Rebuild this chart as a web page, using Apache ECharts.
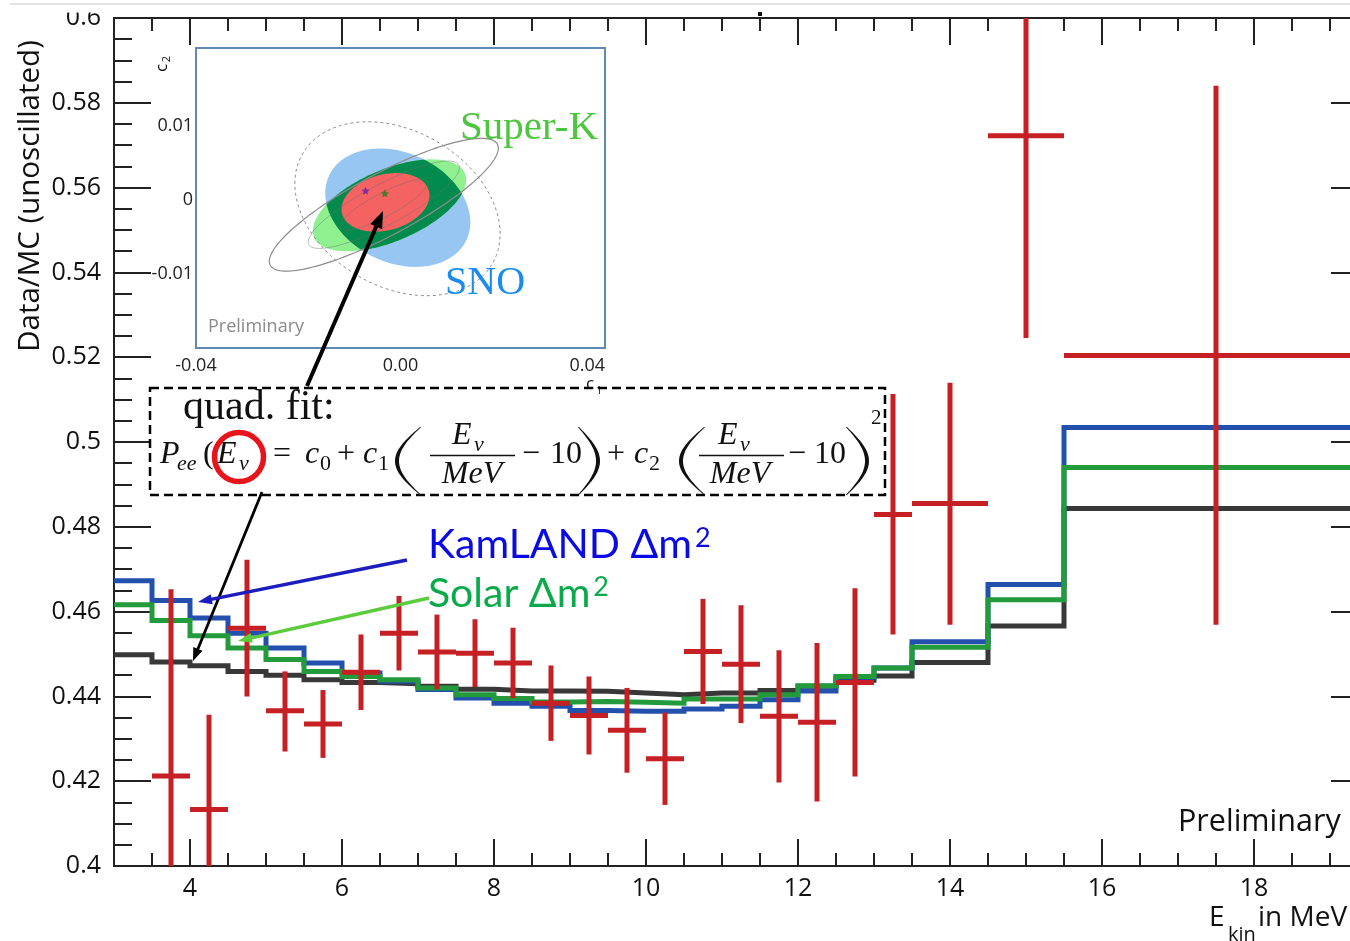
<!DOCTYPE html>
<html>
<head>
<meta charset="utf-8">
<script src="https://cdn.jsdelivr.net/npm/echarts@6/dist/echarts.min.js"></script>
<style>
  html, body { margin: 0; padding: 0; background: #fff; }
  #chart { width: 1350px; height: 941px; }
</style>
</head>
<body>
<div id="chart"></div>
<script>
// ---- Energy binning (kinetic energy, MeV) ----
const binEdges = [3, 3.5, 4, 4.5, 5, 5.5, 6, 6.5, 7, 7.5, 8, 8.5, 9, 9.5, 10, 10.5, 11, 11.5, 12, 12.5, 13, 13.5, 14.5, 15.5, 19.5];

// ---- Predicted Data/MC per bin ----
const peeKamLAND = [0.4673, 0.4626, 0.4585, 0.4549, 0.4514, 0.4479, 0.4455, 0.4436, 0.4416, 0.4396, 0.4384, 0.4377,
                    0.4367, 0.4365, 0.4365, 0.4370, 0.4377, 0.4392, 0.4413, 0.4445, 0.4467, 0.4529, 0.4664, 0.5034];
const peeSolar    = [0.4616, 0.4579, 0.4543, 0.4514, 0.4487, 0.4459, 0.4447, 0.4439, 0.4420, 0.4404, 0.4395, 0.4387,
                    0.4388, 0.4386, 0.4384, 0.4394, 0.4394, 0.4404, 0.4425, 0.4447, 0.4467, 0.4516, 0.4628, 0.4940];
const peeQuadFit  = [0.4498, 0.4481, 0.4472, 0.4459, 0.4450, 0.4439, 0.4433, 0.4430, 0.4424, 0.4417, 0.4413, 0.4413,
                    0.4412, 0.4408, 0.4404, 0.4408, 0.4408, 0.4414, 0.4424, 0.4438, 0.4448, 0.4480, 0.4566, 0.4843];

// ---- Measured Data/MC (bins 2..24) ----
const dataRatio   = [0.4212, 0.4133, 0.4561, 0.4366, 0.4335, 0.4457, 0.4549, 0.4505, 0.4502, 0.4479, 0.4384, 0.4355,
                     0.4320, 0.4253, 0.4506, 0.4476, 0.4353, 0.4339, 0.4433, 0.4829, 0.4855, 0.5722, 0.5204];
const dataErrLow  = [0.0441, 0.0224, 0.0161, 0.0096, 0.0080, 0.0089, 0.0088, 0.0088, 0.0080, 0.0083, 0.0089, 0.0092,
                     0.0100, 0.0109, 0.0124, 0.0139, 0.0156, 0.0187, 0.0222, 0.0283, 0.0286, 0.0477, 0.0635];
const dataErrHigh = [0.0441, 0.0224, 0.0161, 0.0093, 0.0080, 0.0089, 0.0088, 0.0088, 0.0080, 0.0083, 0.0089, 0.0092,
                     0.0100, 0.0109, 0.0124, 0.0139, 0.0156, 0.0187, 0.0222, 0.0284, 0.0285, 0.0477, 0.0636];

// ---- Inset: allowed regions in the (c1, c2) plane: [c1, c2, sigma_c1, sigma_c2, correlation] ----
const snoRegion       = [-0.00053, -0.00106, 0.01419, 0.00799, -0.245];
const superKRegion    = [-0.00215, -0.00074, 0.01499, 0.00621, 0.552];
const combinedRegion  = [-0.00293, -0.00034, 0.00860, 0.00396, 0.236];
const superKOutline   = [-0.00326, -0.00066, 0.02240, 0.00896, 0.852];
const superKInner1    = [-0.00326, -0.00066, 0.01480, 0.00590, 0.852];
const superKInner2    = [-0.00326, -0.00066, 0.00850, 0.00340, 0.852];
const snoOutline      = [-0.00059, -0.00120, 0.02008, 0.01174, -0.289];
const bestFitSuperK   = [-0.00683, 0.00123];
const bestFitCombined = [-0.00306, 0.00088];

const xMajorTicks = [4, 6, 8, 10, 12, 14, 16, 18];
const insetXLabels = [-0.04, 0, 0.04];
const insetYLabels = [-0.01, 0, 0.01];

// ---- Derived series data ----
function stepData(vals) {
  return binEdges.map((e, i) => [e, vals[Math.min(i, vals.length - 1)]]);
}
const pointRows = dataRatio.map((v, i) => {
  const lo = binEdges[i + 1], hi = binEdges[i + 2];
  return [(lo + hi) / 2, v, dataErrLow[i], dataErrHigh[i], (hi - lo) / 2];
});

const X_MIN = 3, X_MAX = 19.5, Y_MIN = 0.4, Y_MAX = 0.6;

function ellipsePoints(p, n) {
  const k = Math.sqrt(1 - p[4] * p[4]);
  const pts = [];
  for (let i = 0; i < n; i++) {
    const t = 2 * Math.PI * i / n;
    const c = Math.cos(t), s = Math.sin(t);
    pts.push([p[0] + p[2] * c, p[1] + p[3] * (p[4] * c + k * s)]);
  }
  return pts;
}

// Sutherland-Hodgman clipping of a polygon by a convex polygon (pixel space)
function clipConvex(subject, clip) {
  let area = 0;
  for (let i = 0; i < clip.length; i++) {
    const a = clip[i], b = clip[(i + 1) % clip.length];
    area += a[0] * b[1] - b[0] * a[1];
  }
  const sgn = area > 0 ? 1 : -1;
  const inside = (p, a, b) => sgn * ((b[0] - a[0]) * (p[1] - a[1]) - (b[1] - a[1]) * (p[0] - a[0])) >= 0;
  const inter = (p, q, a, b) => {
    const a1 = b[1] - a[1], b1 = a[0] - b[0], c1 = a1 * a[0] + b1 * a[1];
    const a2 = q[1] - p[1], b2 = p[0] - q[0], c2 = a2 * p[0] + b2 * p[1];
    const d = a1 * b2 - a2 * b1;
    return [(b2 * c1 - b1 * c2) / d, (a1 * c2 - a2 * c1) / d];
  };
  let out = subject;
  for (let i = 0; i < clip.length; i++) {
    const a = clip[i], b = clip[(i + 1) % clip.length];
    const input = out; out = [];
    for (let j = 0; j < input.length; j++) {
      const p = input[j], q = input[(j + 1) % input.length];
      const pin = inside(p, a, b), qin = inside(q, a, b);
      if (pin) {
        out.push(p);
        if (!qin) out.push(inter(p, q, a, b));
      } else if (qin) {
        out.push(inter(p, q, a, b));
      }
    }
  }
  return out;
}

function contourSeries(region, style, z) {
  return {
    type: 'custom', xAxisIndex: 4, yAxisIndex: 2, z: z || 3, silent: true,
    data: [region],
    renderItem: function (params, api) {
      const p = [0, 1, 2, 3, 4].map(i => api.value(i));
      return {
        type: 'polygon',
        shape: { points: ellipsePoints(p, 160).map(q => api.coord(q)) },
        style: style
      };
    }
  };
}

const overlapSeries = {
  type: 'custom', xAxisIndex: 4, yAxisIndex: 2, z: 4, silent: true,
  data: [superKRegion],
  renderItem: function (params, api) {
    const a = ellipsePoints(snoRegion, 160).map(q => api.coord(q));
    const b = ellipsePoints(superKRegion, 160).map(q => api.coord(q));
    return { type: 'polygon', shape: { points: clipConvex(b, a) }, style: { fill: '#038a4d', stroke: null } };
  }
};

// ---- Annotation helpers ----
const G = [];
function txt(text, x, y, size, opts) {
  opts = opts || {};
  G.push({
    type: 'text', x: x, y: y, z: 110, rotation: opts.rotation || 0,
    style: {
      text: text, fill: opts.color || '#111',
      font: (opts.italic ? 'italic ' : '') + (opts.weight || 'normal') + ' ' + size + 'px ' + (opts.family || '"Liberation Serif"'),
      align: opts.align || 'left', verticalAlign: 'middle', rich: opts.rich
    }
  });
}
function arrow(x1, y1, x2, y2, color, width, hl, hw) {
  const dx = x2 - x1, dy = y2 - y1, L = Math.hypot(dx, dy);
  const ux = dx / L, uy = dy / L;
  const bx = x2 - ux * hl, by = y2 - uy * hl;
  G.push({ type: 'line', z: 120, shape: { x1: x1, y1: y1, x2: bx + ux * 2, y2: by + uy * 2 },
           style: { stroke: color, lineWidth: width } });
  G.push({ type: 'polygon', z: 120,
           shape: { points: [[x2, y2], [bx - uy * hw / 2, by + ux * hw / 2], [bx + uy * hw / 2, by - ux * hw / 2]] },
           style: { fill: color } });
}
function paren(xEdge, xBulge, yTop, yBot, thick) {
  // crescent-shaped delimiter; bulge side given by xBulge
  const n = 40, outer = [], inner = [];
  const dir = xBulge < xEdge ? 1 : -1;
  for (let i = 0; i <= n; i++) {
    const t = i / n, s = Math.sin(Math.PI * t);
    const y = yTop + t * (yBot - yTop);
    const xo = xEdge + (xBulge - xEdge) * s;
    outer.push([xo, y]);
    inner.push([xo + dir * (1.1 + (thick - 1.1) * s), y]);
  }
  G.push({ type: 'polygon', z: 110, shape: { points: outer.concat(inner.reverse()) }, style: { fill: '#111' } });
}

// page decorations
G.push({ type: 'line', z: 90, shape: { x1: 10, y1: 4, x2: 1350, y2: 4 }, style: { stroke: '#dadada', lineWidth: 1.5 } });
G.push({ type: 'rect', z: 95, shape: { x: 40, y: 5.5, width: 70, height: 7 }, style: { fill: '#fff' } });
G.push({ type: 'rect', z: 95, shape: { x: 758, y: 12, width: 4, height: 4 }, style: { fill: '#111' } });

// axis titles and labels
txt('Data/MC (unoscillated)', 31, 196, 29.5, { family: '"Open Sans"', rotation: Math.PI / 2, align: 'center' });
txt('E', 1209, 918, 28, { family: '"Open Sans"' });
txt('kin', 1228, 935, 20, { family: '"Open Sans"' });
txt('in MeV', 1258, 918, 28, { family: '"Open Sans"' });
txt('Preliminary', 1178, 822, 30.5, { family: '"Open Sans"' });

// inset labels
txt('Super-K', 460, 128, 41, { color: '#4cc63c' });
txt('SNO', 445, 283, 40, { color: '#1a8cf0' });
txt('Preliminary', 208, 327, 18, { family: '"Open Sans"', color: '#8a8a8a' });
txt('c', 162, 68, 17, { family: '"Open Sans"', rotation: Math.PI / 2, align: 'center' });
txt('2', 167, 59, 11, { family: '"Open Sans"', rotation: Math.PI / 2, align: 'center' });

// quadratic-fit formula box
G.push({ type: 'rect', z: 105, shape: { x: 150, y: 388, width: 735, height: 107 },
         style: { fill: '#fff', stroke: '#000', lineWidth: 2.5, lineDash: [9, 5] } });
txt('c', 586, 384, 17, { family: '"Open Sans"' });
txt('1', 596, 391, 11, { family: '"Open Sans"' });
txt('quad. fit:', 183, 408, 42);
const M = 455, S = 464;
txt('P', 160, M, 32, { italic: true });
txt('ee', 177, S, 22, { italic: true });
txt('(', 203, M, 32);
txt('E', 217, M, 32, { italic: true });
txt('ν', 239, S, 22, { italic: true });
txt('=', 273, M, 32);
txt('c', 305, M, 32, { italic: true });
txt('0', 320, S, 22);
txt('+', 337, M, 32);
txt('c', 363, M, 32, { italic: true });
txt('1', 378, S, 22);
paren(420, 395, 427, 495, 4);
txt('E', 452, 436, 32, { italic: true });
txt('ν', 474, 445, 22, { italic: true });
G.push({ type: 'line', z: 110, shape: { x1: 430, y1: 455.5, x2: 515, y2: 455.5 }, style: { stroke: '#111', lineWidth: 1.6 } });
txt('MeV', 472, 475, 32, { italic: true, align: 'center' });
txt('−', 522, M, 32);
txt('10', 550, M, 32);
paren(579, 600, 427, 495, 4);
txt('+', 607, M, 32);
txt('c', 634, M, 32, { italic: true });
txt('2', 649, S, 22);
paren(704, 679, 427, 495, 4);
txt('E', 718, 436, 32, { italic: true });
txt('ν', 740, 445, 22, { italic: true });
G.push({ type: 'line', z: 110, shape: { x1: 699, y1: 455.5, x2: 784, y2: 455.5 }, style: { stroke: '#111', lineWidth: 1.6 } });
txt('MeV', 740, 475, 32, { italic: true, align: 'center' });
txt('−', 788, M, 32);
txt('10', 814, M, 32);
paren(847, 869, 427, 495, 4);
txt('2', 871, 418, 21);
G.push({ type: 'circle', z: 115, shape: { cx: 239, cy: 457, r: 24.5 }, style: { fill: null, stroke: '#e8141b', lineWidth: 5.5 } });

// model labels and pointers
txt('{m|KamLAND Δm}{s|2}', 428, 545, 41, { family: 'Lato', color: '#0a0ae6',
  rich: { m: { fontSize: 41, fontFamily: 'Lato', fill: '#0a0ae6', color: '#0a0ae6' },
          s: { fontSize: 27, fontFamily: 'Lato', fill: '#0a0ae6', color: '#0a0ae6', verticalAlign: 'top', padding: [0, 0, 14, 3] } } });
txt('{m|Solar Δm}{s|2}', 428, 594, 41, { family: 'Lato', color: '#0aaa4a',
  rich: { m: { fontSize: 41, fontFamily: 'Lato', fill: '#0aaa4a', color: '#0aaa4a' },
          s: { fontSize: 27, fontFamily: 'Lato', fill: '#0aaa4a', color: '#0aaa4a', verticalAlign: 'top', padding: [0, 0, 14, 3] } } });
arrow(307, 386, 383, 211, '#000', 4, 17, 13);
arrow(262, 492, 193, 661, '#000', 2.8, 13, 10);
arrow(407, 560, 198, 602, '#1c1cbf', 3.5, 14, 10);
arrow(429, 598, 238, 641, '#5ccb3c', 3.5, 14, 10);

// ---- Chart ----
const axisColor = '#222';
const tickFont = { fontFamily: '"Open Sans"', fontSize: 25, color: '#111' };
const mainX = (pos, major, labels) => ({
  type: 'value', gridIndex: 0, position: pos, min: X_MIN, max: X_MAX,
  interval: 0.5,
  axisLine: { show: !major, lineStyle: { color: axisColor, width: 2 } },
  axisTick: major
    ? { show: true, inside: true, length: 27, customValues: xMajorTicks, lineStyle: { color: axisColor, width: 2 } }
    : { show: true, inside: true, length: 13, lineStyle: { color: axisColor, width: 2 } },
  axisLabel: labels
    ? Object.assign({ show: true, margin: 10, formatter: v => (xMajorTicks.indexOf(v) >= 0 ? String(v) : '') }, tickFont)
    : { show: false },
  splitLine: { show: false }
});
const mainY = (pos, labels) => ({
  type: 'value', gridIndex: 0, position: pos, min: Y_MIN, max: Y_MAX, interval: 0.02,
  axisLine: { show: true, lineStyle: { color: axisColor, width: 2 } },
  axisTick: { show: true, inside: true, length: 37, lineStyle: { color: axisColor, width: 2 } },
  minorTick: { show: true, splitNumber: 4, length: 18, lineStyle: { color: axisColor, width: 2 } },
  axisLabel: labels ? Object.assign({ show: true, margin: 13, padding: [6, 0, 0, 0] }, tickFont) : { show: false },
  splitLine: { show: false }
});
const near = (v, list) => list.some(t => Math.abs(v - t) < 1e-9);

const chart = echarts.init(document.getElementById('chart'), null, { renderer: 'canvas' });
chart.setOption({
  animation: false,
  backgroundColor: '#fff',
  grid: [
    { left: 114, top: 18, width: 1254, height: 848, containLabel: false, outerBoundsMode: 'none' },
    { left: 196, top: 48, width: 409, height: 300, show: true, backgroundColor: '#fff',
      borderColor: '#6289b5', borderWidth: 2, z: 1, containLabel: false, outerBoundsMode: 'none' }
  ],
  xAxis: [
    mainX('bottom', false, true),
    mainX('bottom', true, false),
    mainX('top', false, false),
    mainX('top', true, false),
    { type: 'value', gridIndex: 1, min: -0.04, max: 0.04, interval: 0.01,
      axisLine: { show: false },
      axisTick: { show: true, inside: true, length: 4, lineStyle: { color: '#bcbcbc' } },
      minorTick: { show: true, splitNumber: 5, length: 2, lineStyle: { color: '#d0d0d0' } },
      axisLabel: { show: true, margin: 9, fontFamily: '"Open Sans"', fontSize: 18, color: '#222', alignMaxLabel: 'right',
                   formatter: v => near(v, insetXLabels) ? (Math.abs(v) < 1e-9 ? '0.00' : v.toFixed(2)) : '' },
      splitLine: { show: true, lineStyle: { color: '#e4e4e4', type: 'dotted' } } }
  ],
  yAxis: [
    mainY('left', true),
    mainY('right', false),
    { type: 'value', gridIndex: 1, min: -0.02, max: 0.0205, interval: 0.01,
      axisLine: { show: false },
      axisTick: { show: true, inside: true, length: 4, lineStyle: { color: '#bcbcbc' } },
      minorTick: { show: true, splitNumber: 5, length: 2, lineStyle: { color: '#d0d0d0' } },
      axisLabel: { show: true, margin: 3, fontFamily: '"Open Sans"', fontSize: 18, color: '#222',
                   formatter: v => near(v, insetYLabels) ? (Math.abs(v) < 1e-9 ? '0' : String(Math.round(v * 100) / 100)) : '' },
      splitLine: { show: true, lineStyle: { color: '#e4e4e4', type: 'dotted' } } }
  ],
  series: [
    { name: 'quad. fit', type: 'line', xAxisIndex: 0, yAxisIndex: 0, step: 'end', showSymbol: false, symbol: 'none', z: 3,
      data: stepData(peeQuadFit), lineStyle: { color: '#383838', width: 5, cap: 'butt', join: 'miter' } },
    { name: 'KamLAND Δm²', type: 'line', xAxisIndex: 0, yAxisIndex: 0, step: 'end', showSymbol: false, symbol: 'none', z: 4,
      data: stepData(peeKamLAND), lineStyle: { color: '#2450ad', width: 5, cap: 'butt', join: 'miter' } },
    { name: 'Solar Δm²', type: 'line', xAxisIndex: 0, yAxisIndex: 0, step: 'end', showSymbol: false, symbol: 'none', z: 5,
      data: stepData(peeSolar), lineStyle: { color: '#239a3c', width: 5, cap: 'butt', join: 'miter' } },
    { name: 'Data/MC', type: 'custom', xAxisIndex: 0, yAxisIndex: 0, z: 6, silent: true,
      data: pointRows,
      renderItem: function (params, api) {
        const x = api.value(0), y = api.value(1), lo = api.value(2), hi = api.value(3), hw = api.value(4);
        const top = api.coord([x, Math.min(y + hi, Y_MAX)]);
        const bot = api.coord([x, Math.max(y - lo, Y_MIN)]);
        const left = api.coord([Math.max(x - hw, X_MIN), y]);
        const right = api.coord([Math.min(x + hw, X_MAX), y]);
        const st = { stroke: '#c61f24', lineWidth: 5 };
        return { type: 'group', children: [
          { type: 'line', shape: { x1: top[0], y1: top[1], x2: bot[0], y2: bot[1] }, style: st },
          { type: 'line', shape: { x1: left[0], y1: left[1], x2: right[0], y2: right[1] }, style: st }
        ] };
      } },
    contourSeries(snoRegion, { fill: '#97c6f2', stroke: null }, 3),
    contourSeries(superKRegion, { fill: '#8ff08f', stroke: null }, 3),
    overlapSeries,
    contourSeries(combinedRegion, { fill: '#f46262', stroke: null }, 5),
    contourSeries(superKInner2, { fill: null, stroke: 'rgba(110,110,110,0.45)', lineWidth: 1 }, 6),
    contourSeries(superKInner1, { fill: null, stroke: 'rgba(110,110,110,0.45)', lineWidth: 1 }, 6),
    contourSeries(superKOutline, { fill: null, stroke: '#8c8c8c', lineWidth: 1.2 }, 6),
    contourSeries(snoOutline, { fill: null, stroke: '#8c8c8c', lineWidth: 1, lineDash: [3, 3] }, 6),
    { type: 'scatter', xAxisIndex: 4, yAxisIndex: 2, z: 7, silent: true,
      symbol: 'path://M0,-10L2.9,-4L9.5,-3.1L4.7,1.5L5.9,8.1L0,5L-5.9,8.1L-4.7,1.5L-9.5,-3.1L-2.9,-4Z',
      symbolSize: 8,
      data: [{ value: bestFitSuperK, itemStyle: { color: '#6a1fb0' } },
             { value: bestFitCombined, itemStyle: { color: '#2e7d1e' } }] }
  ],
  graphic: { elements: G }
});
</script>
</body>
</html>
